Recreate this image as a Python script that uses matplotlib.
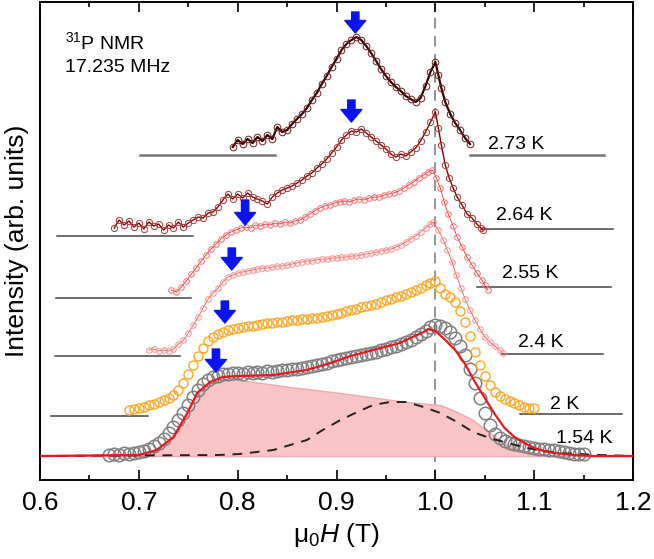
import numpy as np
import matplotlib
matplotlib.use('Agg')
import matplotlib.pyplot as plt

plt.rcParams['font.family'] = ['Liberation Sans', 'DejaVu Sans']
plt.rcParams['mathtext.fontset'] = 'custom'
plt.rcParams['mathtext.rm'] = 'Liberation Sans'
plt.rcParams['mathtext.it'] = 'Liberation Sans:italic'

# ---- spectra (field in T, intensity in arb. units incl. vertical offset) ----
x_154 = [0.670, 0.675, 0.680, 0.685, 0.690, 0.695, 0.700, 0.705, 0.710, 0.715, 0.720, 0.725,
         0.730, 0.735, 0.740, 0.745, 0.750, 0.755, 0.760, 0.765, 0.770, 0.775, 0.780, 0.785,
         0.790, 0.795, 0.800, 0.805, 0.810, 0.815, 0.820, 0.825, 0.830, 0.835, 0.840, 0.845,
         0.850, 0.855, 0.860, 0.865, 0.870, 0.875, 0.880, 0.885, 0.890, 0.895, 0.900, 0.905,
         0.910, 0.915, 0.920, 0.925, 0.930, 0.935, 0.940, 0.945, 0.950, 0.955, 0.960, 0.965,
         0.970, 0.975, 0.980, 0.985, 0.990, 0.995, 1.000, 1.005, 1.010, 1.015, 1.020, 1.025,
         1.030, 1.035, 1.040, 1.045, 1.050, 1.055, 1.060, 1.065, 1.070, 1.075, 1.080, 1.085,
         1.090, 1.095, 1.100, 1.105, 1.110, 1.115, 1.120, 1.125, 1.130, 1.135, 1.140, 1.145, 1.150]
y_154 = [25, 26, 25, 27, 26, 27, 28, 29, 31, 34, 37, 41,
         47, 53, 60, 67, 75, 83, 90, 96, 100, 103, 104, 106,
         106, 107, 107, 106, 108, 107, 108, 107, 109, 108, 109, 110,
         110, 111, 111, 112, 113, 114, 115, 116, 117, 119, 120, 121,
         122, 123, 124, 125, 126, 127, 128, 130, 131, 133, 134, 136,
         138, 140, 143, 146, 149, 153, 155, 154, 152, 148, 142, 134,
         125, 111, 97, 82, 67, 55, 46, 42, 39, 37, 36, 35,
         34, 33, 32, 31, 31, 30, 30, 29, 28, 27, 26, 26, 26]

x_2 = [0.690, 0.695, 0.700, 0.705, 0.710, 0.715, 0.720, 0.725, 0.730, 0.735, 0.740, 0.745,
       0.750, 0.755, 0.760, 0.765, 0.770, 0.775, 0.780, 0.785, 0.790, 0.795, 0.800, 0.805,
       0.810, 0.815, 0.820, 0.825, 0.830, 0.835, 0.840, 0.845, 0.850, 0.855, 0.860, 0.865,
       0.870, 0.875, 0.880, 0.885, 0.890, 0.895, 0.900, 0.905, 0.910, 0.915, 0.920, 0.925,
       0.930, 0.935, 0.940, 0.945, 0.950, 0.955, 0.960, 0.965, 0.970, 0.975, 0.980, 0.985,
       0.990, 0.995, 1.000, 1.005, 1.010, 1.015, 1.020, 1.025, 1.030, 1.035, 1.040, 1.045,
       1.050, 1.055, 1.060, 1.065, 1.070, 1.075, 1.080, 1.085, 1.090, 1.095, 1.100]
y_2 = [70, 71, 72, 73, 75, 76, 78, 80, 82, 85, 90, 97,
       106, 115, 124, 132, 139, 143, 146, 148, 150, 151, 152, 153,
       154, 154, 155, 156, 157, 157, 158, 158, 159, 160, 160, 161,
       161, 162, 162, 163, 164, 165, 166, 167, 169, 170, 171, 173,
       174, 175, 176, 178, 180, 181, 183, 184, 186, 188, 190, 192,
       195, 197, 199, 192, 186, 183, 178, 169, 158, 144, 128, 115,
       104, 95, 88, 84, 81, 79, 77, 75, 73, 72, 72]

x_24 = [0.710, 0.715, 0.720, 0.725, 0.730, 0.735, 0.740, 0.745, 0.750, 0.755, 0.760, 0.765,
        0.770, 0.775, 0.780, 0.785, 0.790, 0.795, 0.800, 0.805, 0.810, 0.815, 0.820, 0.825,
        0.830, 0.835, 0.840, 0.845, 0.850, 0.855, 0.860, 0.865, 0.870, 0.875, 0.880, 0.885,
        0.890, 0.895, 0.900, 0.905, 0.910, 0.915, 0.920, 0.925, 0.930, 0.935, 0.940, 0.945,
        0.950, 0.955, 0.960, 0.965, 0.970, 0.975, 0.980, 0.985, 0.990, 0.995, 0.998, 1.003,
        1.008, 1.012, 1.017, 1.021, 1.026, 1.030, 1.035, 1.040, 1.045, 1.050, 1.055, 1.060,
        1.065, 1.068]
y_24 = [130, 131, 129, 130, 129, 131, 136, 140, 147, 155, 163, 172,
        181, 187, 192, 198, 203, 205, 207, 208, 209, 210, 211, 212,
        212, 213, 214, 214, 215, 216, 217, 218, 219, 219, 220, 221,
        221, 222, 222, 223, 223, 224, 224, 225, 226, 227, 228, 229,
        230, 231, 233, 235, 238, 241, 244, 248, 252, 256, 258, 250,
        240, 230, 218, 205, 192, 181, 170, 160, 151, 143, 138, 134,
        130, 127]

x_255 = [0.733, 0.738, 0.743, 0.748, 0.753, 0.758, 0.763, 0.768, 0.773, 0.778, 0.783, 0.788,
         0.793, 0.798, 0.803, 0.808, 0.813, 0.818, 0.823, 0.828, 0.833, 0.838, 0.843, 0.848,
         0.853, 0.858, 0.863, 0.868, 0.873, 0.878, 0.883, 0.888, 0.893, 0.898, 0.903, 0.908,
         0.913, 0.918, 0.923, 0.928, 0.933, 0.938, 0.943, 0.948, 0.953, 0.958, 0.963, 0.968,
         0.973, 0.978, 0.983, 0.988, 0.993, 0.997, 1.001, 1.005, 1.009, 1.013, 1.018, 1.022,
         1.027, 1.032, 1.037, 1.042, 1.047, 1.050, 1.053]
y_255 = [190, 188, 193, 199, 206, 212, 219, 225, 231, 236, 241, 245,
         248, 250, 252, 253, 252, 255, 254, 256, 255, 257, 256, 258,
         257, 259, 260, 263, 266, 269, 272, 274, 275, 277, 278, 279,
         278, 280, 281, 280, 282, 283, 283, 285, 286, 287, 289, 292,
         295, 298, 302, 305, 308, 310, 302, 292, 278, 266, 254, 243,
         233, 223, 215, 207, 200, 195, 190]

x_264 = [0.675, 0.680, 0.685, 0.690, 0.695, 0.700, 0.705, 0.710, 0.715, 0.720, 0.725, 0.730,
         0.735, 0.740, 0.745, 0.750, 0.755, 0.760, 0.765, 0.770, 0.775, 0.780, 0.785, 0.790,
         0.795, 0.800, 0.805, 0.810, 0.815, 0.820, 0.825, 0.830, 0.835, 0.840, 0.845, 0.850,
         0.855, 0.860, 0.865, 0.870, 0.875, 0.880, 0.885, 0.890, 0.895, 0.900, 0.905, 0.910,
         0.915, 0.920, 0.925, 0.930, 0.935, 0.940, 0.945, 0.950, 0.955, 0.960, 0.965, 0.970,
         0.975, 0.980, 0.985, 0.990, 0.995, 1.000, 1.003, 1.006, 1.010, 1.014, 1.018, 1.022,
         1.027, 1.032, 1.037, 1.042, 1.046, 1.048]
y_264 = [252, 260, 255, 259, 253, 257, 251, 258, 254, 256, 250, 255,
         252, 258, 253, 257, 260, 263, 262, 267, 268, 273, 280, 286,
         281, 286, 282, 287, 283, 281, 279, 276, 283, 287, 290, 292,
         294, 297, 300, 304, 307, 312, 316, 321, 327, 333, 340, 345,
         349, 348, 351, 347, 343, 339, 335, 331, 326, 323, 326, 324,
         328, 332, 339, 348, 358, 368, 352, 335, 315, 302, 292, 283,
         275, 266, 262, 256, 252, 250]

x_273 = [0.795, 0.800, 0.805, 0.810, 0.815, 0.820, 0.825, 0.830, 0.835, 0.840, 0.845, 0.850,
         0.855, 0.860, 0.865, 0.870, 0.875, 0.880, 0.885, 0.890, 0.895, 0.900, 0.905, 0.910,
         0.915, 0.920, 0.925, 0.930, 0.935, 0.940, 0.945, 0.950, 0.955, 0.960, 0.965, 0.970,
         0.975, 0.980, 0.985, 0.990, 0.995, 1.000, 1.003, 1.006, 1.010, 1.015, 1.020, 1.025,
         1.030, 1.035]
y_273 = [333, 340, 336, 341, 337, 343, 339, 345, 341, 353, 348, 350,
         356, 361, 366, 372, 380, 387, 396, 404, 413, 421, 430, 436,
         440, 443, 440, 434, 427, 419, 411, 404, 398, 393, 389, 384,
         381, 378, 382, 394, 408, 418, 405, 392, 378, 366, 357, 350,
         342, 336]

# fit of the 1.54 K spectrum and its two components
x_fit = [0.60, 0.70, 0.718, 0.735, 0.749, 0.759, 0.772, 0.785, 0.802, 0.836, 0.870, 0.894,
         0.914, 0.937, 0.964, 0.988, 0.993, 1.0, 1.01, 1.02, 1.03, 1.04, 1.05, 1.06, 1.07,
         1.08, 1.09, 1.10, 1.11, 1.12, 1.14, 1.16, 1.20]
y_fit = [24, 25, 30, 43, 67, 87, 98, 103, 104, 105, 110, 117,
         124, 130, 137, 148, 151, 149, 140, 130, 116, 98, 82, 66, 52,
         43, 37, 32, 29, 27, 25, 24, 24]

x_c1 = [0.60, 0.70, 0.718, 0.735, 0.749, 0.759, 0.772, 0.785, 0.802, 0.853, 0.904, 0.971,
        1.005, 1.022, 1.038, 1.055, 1.073, 1.093, 1.12, 1.20]
y_c1 = [24, 25, 30, 43, 67, 87, 97, 101, 100, 93, 87, 78,
        75, 68, 60, 47, 35, 28, 24, 24]

x_c2 = [0.60, 0.78, 0.802, 0.836, 0.870, 0.886, 0.904, 0.921, 0.937, 0.954, 0.971, 0.988,
        1.005, 1.022, 1.038, 1.055, 1.073, 1.093, 1.123, 1.167, 1.20]
y_c2 = [24, 25, 26, 30, 40, 50, 60, 68, 75, 78, 78, 73,
        67, 58, 48, 42, 37, 32, 27, 25, 24]

# baselines drawn beside each spectrum: (x start, x end, level)
base_left = {'2.73 K': (0.7013, 0.8380, 325), '2.64 K': (0.6172, 0.7549, 244),
             '2.55 K': (0.6162, 0.7529, 182), '2.4 K': (0.6152, 0.7417, 124),
             '2 K': (0.6111, 0.7093, 64)}
base_right = {'2.73 K': (1.0352, 1.1708, 325), '2.64 K': (1.0474, 1.1800, 251),
              '2.55 K': (1.0425, 1.1780, 193), '2.4 K': (1.0664, 1.1700, 126),
              '2 K': (1.0858, 1.1891, 66)}

labels = ['2.73 K', '2.64 K', '2.55 K', '2.4 K', '2 K', '1.54 K']
label_xy = [(1.053, 336), (1.0615, 265), (1.0676, 207), (1.0838, 138), (1.1162, 76), (1.1223, 42)]

# arrows marking the shoulder / maximum: field, tip, tail
arrow_x = [0.919, 0.915, 0.8075, 0.794, 0.787, 0.778]
arrow_tip = [447, 358, 255, 210, 157, 108]
arrow_top = [468, 380, 280, 232, 179, 131]

fig = plt.figure(figsize=(6.54, 5.59), dpi=100)
ax = fig.add_axes([0.0612, 0.1413, 0.9068, 0.8551])

# fit components
ax.fill_between(x_c1, 24, y_c1, color='#f9c4c6', edgecolor='#f6a8ac', lw=1, zorder=1)
ax.plot(x_c2, y_c2, '--', color='#222222', lw=1.4, dashes=(5, 4), zorder=4)

ax.axvline(1.0, color='#8c8c8c', lw=1.3, ls=(0, (6, 4)), zorder=0)

ax.plot(x_154, y_154, 'o', mfc='none', mec='#808080', ms=9, mew=1.1, zorder=3)
ax.plot(x_fit, y_fit, '-', color='#e8191d', lw=1.6, zorder=5)

ax.plot(x_2, y_2, 'o', mfc='none', mec='#ffa622', ms=6.5, mew=1.0, zorder=3)
ax.plot(x_24, y_24, '-o', color='#ff3030', mfc='none', mec='#ff8c8c', ms=4, mew=0.7, lw=0.5, zorder=3)
ax.plot(x_255, y_255, '-o', color='#e01010', mfc='none', mec='#ff6b6b', ms=4, mew=0.7, lw=0.5, zorder=3)
ax.plot(x_264, y_264, '-o', color='#8b0000', mfc='none', mec='#a83a3a', ms=4.5, mew=0.7, lw=1.0, zorder=3)
ax.plot(x_273, y_273, '-o', color='#3a0000', mfc='none', mec='#6a2020', ms=4.8, mew=0.7, lw=1.6, zorder=3)

for lab in base_left:
    c = '#777777' if lab == '2.73 K' else '#444444'
    w = 1.8 if lab == '2.73 K' else 1.1
    x0, x1, y0 = base_left[lab]
    ax.plot([x0, x1], [y0, y0], color=c, lw=w, zorder=2)
    x0, x1, y0 = base_right[lab]
    ax.plot([x0, x1], [y0, y0], color=c, lw=w, zorder=2)

for lab, (tx, ty) in zip(labels, label_xy):
    ax.text(tx, ty, lab, fontsize=14, va='center', ha='left')

for ax_, tip, top in zip(arrow_x, arrow_tip, arrow_top):
    ax.annotate('', xy=(ax_, tip), xytext=(ax_, top),
                arrowprops=dict(arrowstyle='simple,head_width=1.0,head_length=0.6,tail_width=0.35',
                                color='#0a14f0', shrinkA=0, shrinkB=0, mutation_scale=15),
                zorder=6)

ax.text(0.6253, 438, '$^{31}$P NMR', fontsize=14, va='center')
ax.text(0.6253, 413, '17.235 MHz', fontsize=14, va='center')

ax.set_xlim(0.6, 1.2)
ax.set_ylim(0, 478)
ax.set_xticks(np.arange(0.6, 1.21, 0.1))
ax.set_xticks(np.arange(0.65, 1.2, 0.1), minor=True)
ax.set_xticklabels(['0.6', '0.7', '0.8', '0.9', '1.0', '1.1', '1.2'])
ax.set_yticks([])
ax.tick_params(axis='x', which='both', direction='in', top=True, labelsize=19, width=1.2, pad=8)
ax.tick_params(axis='x', which='major', length=7)
ax.tick_params(axis='x', which='minor', length=3.6)
for s in ax.spines.values():
    s.set_linewidth(1.4)

ax.set_xlabel('μ$_0$$H$ (T)', fontsize=19, labelpad=4)
ax.set_ylabel('Intensity (arb. units)', fontsize=19, labelpad=8)

fig.savefig('out.png', dpi=100)
